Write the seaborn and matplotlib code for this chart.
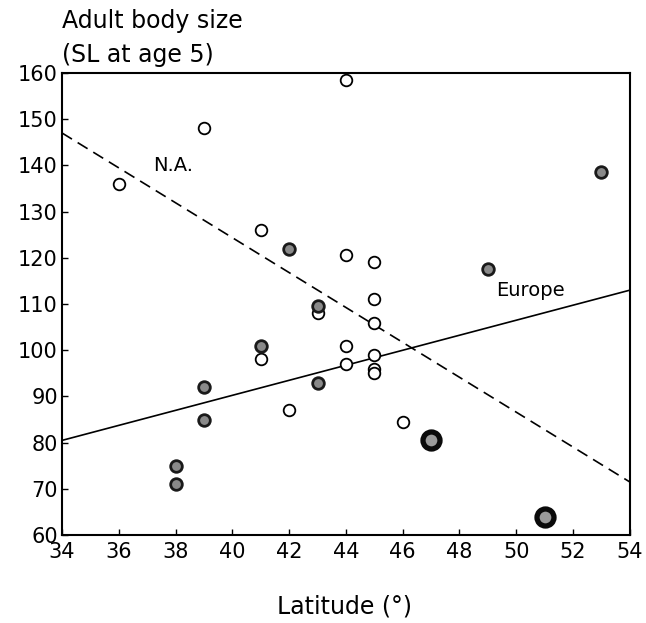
import matplotlib
matplotlib.use("Agg")
import matplotlib.pyplot as plt
import seaborn as sns
import pandas as pd

# North America (open circles)
na_lat = [36, 39, 44, 41, 44, 45, 45, 43, 45, 41, 44, 44, 45, 45, 45, 42, 46]
na_size = [136, 148, 158.5, 126, 120.5, 119, 111, 108, 106, 98, 101, 97, 99, 96, 95, 87, 84.5]

# Europe (shaded circles)
eu_lat = [42, 43, 41, 39, 39, 43, 38, 38, 49, 53]
eu_size = [122, 109.5, 101, 92, 85, 93, 75, 71, 117.5, 138.5]

# Europe, large dark points
eu_big_lat = [47, 51]
eu_big_size = [80.5, 64]

# Regression lines (endpoints read at x=34 and x=54)
line_x = [34, 54]
na_line = [147, 71.5]
eu_line = [80.5, 113]

sns.set_theme(style="white")
plt.rcParams['font.family'] = ['DejaVu Sans']
plt.rcParams['text.color'] = 'black'

fig = plt.figure(figsize=(6.46, 6.23), dpi=100)
ax = fig.add_axes([0.096, 0.141, 0.879, 0.742])

sns.lineplot(x=line_x, y=na_line, ax=ax, color="black", lw=1.2, linestyle=(0, (7, 4)))
sns.lineplot(x=line_x, y=eu_line, ax=ax, color="black", lw=1.2)

sns.scatterplot(x=na_lat, y=na_size, ax=ax, s=70, facecolor="white",
                edgecolor="black", linewidth=1.3, zorder=3)
sns.scatterplot(x=eu_lat, y=eu_size, ax=ax, s=70, color="#8a8a8a",
                edgecolor="#1a1a1a", linewidth=2.0, zorder=3)
sns.scatterplot(x=eu_big_lat, y=eu_big_size, ax=ax, s=150, color="#9a9a9a",
                edgecolor="#0a0a0a", linewidth=3.8, zorder=3)

ax.set_xlim(34, 54)
ax.set_ylim(60, 160)
ax.set_xticks(range(34, 55, 2))
ax.set_yticks(range(60, 161, 10))
ax.tick_params(axis="both", labelsize=15, direction="in", length=4, width=1,
               colors="black", bottom=True, left=True)
ax.tick_params(axis="x", pad=5)
ax.tick_params(axis="y", pad=3)
for sp in ax.spines.values():
    sp.set_color("black")
    sp.set_linewidth(1.5)

ax.text(37.9, 140, "N.A.", fontsize=14, ha="center", va="center", color="black")
ax.text(50.5, 113, "Europe", fontsize=14, ha="center", va="center", color="black")

fig.text(0.096, 0.967, "Adult body size", fontsize=17, ha="left", va="center", color="black")
fig.text(0.096, 0.912, "(SL at age 5)", fontsize=17, ha="left", va="center", color="black")
fig.text(0.534, 0.026, "Latitude (°)", fontsize=17, ha="center", va="center", color="black")
ax.set_xlabel("")
ax.set_ylabel("")

fig.savefig("out.png", dpi=100)
